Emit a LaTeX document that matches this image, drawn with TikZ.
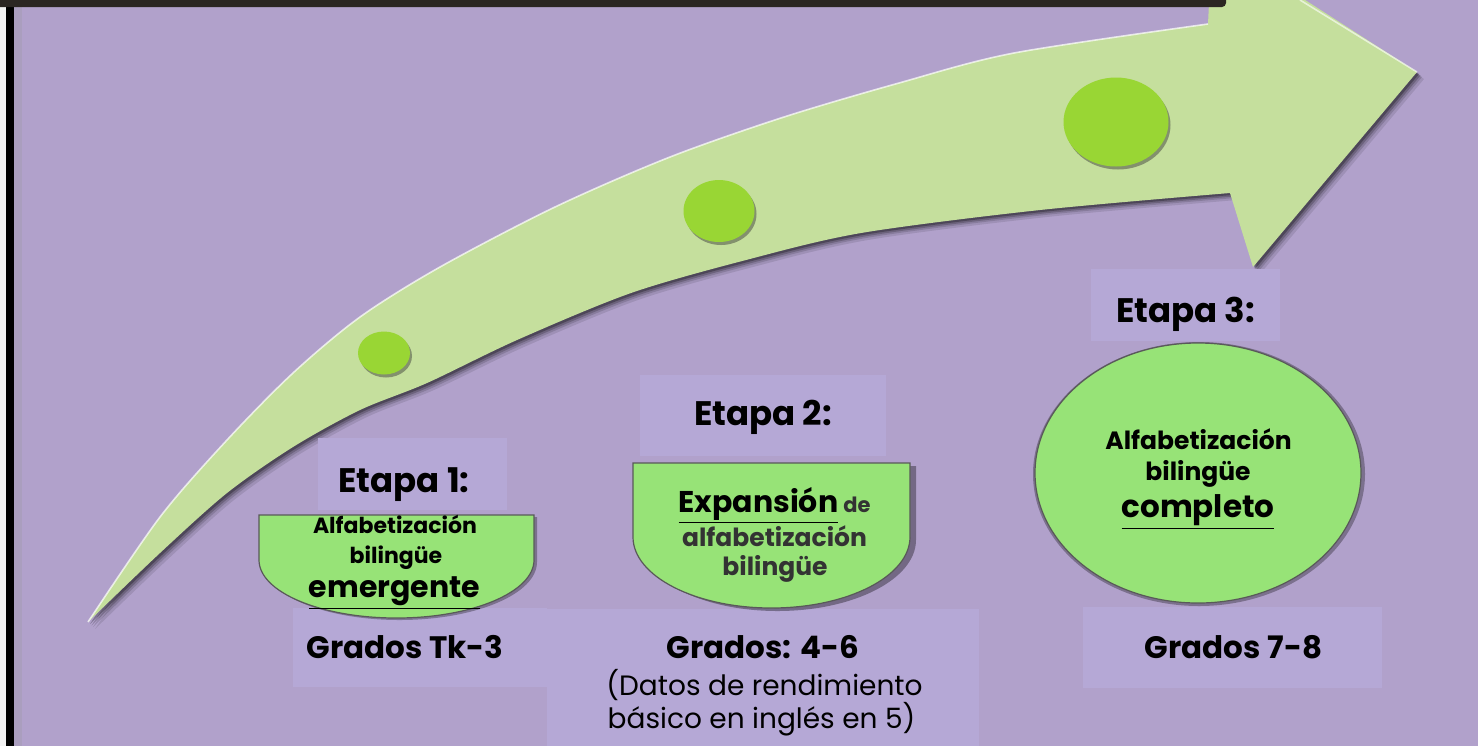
\documentclass[tikz,border=0pt]{standalone}
\usepackage{fontspec}
\setmainfont{Poppins}
\usetikzlibrary{shapes.geometric,shadows}
\definecolor{bg}{RGB}{177,161,203}
\definecolor{boxc}{RGB}{181,168,214}
\definecolor{arrowg}{RGB}{197,223,157}
\definecolor{dotg}{RGB}{153,214,52}
\definecolor{shapeg}{RGB}{151,227,119}
\definecolor{barc}{RGB}{43,38,34}
\definecolor{txtgray}{RGB}{51,51,51}
\def\upperedge{(88,622) (160,517) (227,440) (293,373) (360,317) (440,267) (555,207) (670,157) (784,117) (899,83) (1014,53) (1208,24)}
\def\arrowpath{plot[smooth,tension=0.5] coordinates {\upperedge} -- (1212,-60) -- (1417,72) -- (1253,267) -- (1230,193) -- plot[smooth,tension=0.5] coordinates {(1230,193) (1040,210) (861,233) (746,260) (631,293) (517,340) (427,383) (360,410) (293,447) (227,493) (160,553) (88,622)} -- cycle}
\begin{document}
\begin{tikzpicture}[x=0.5pt,y=-0.5pt,
  lbox/.style={fill=boxc},
  gshape/.style={fill=shapeg,draw=black!65,line width=0.6pt},
  dotn/.style={ellipse,fill=dotg,inner sep=0pt,drop shadow={shadow xshift=1pt,shadow yshift=-1.5pt,opacity=0.45,fill=black!80}},
  tb/.style={anchor=base,inner sep=0pt,font=\bfseries\fontsize{17}{20}\selectfont},
  tg/.style={anchor=base,inner sep=0pt,font=\bfseries\fontsize{15.5}{18}\selectfont},
  ts/.style={anchor=base,inner sep=0pt,font=\bfseries\fontsize{11}{13}\selectfont},
  tm/.style={anchor=base,inner sep=0pt,font=\bfseries\fontsize{12.5}{14}\selectfont},
  tr/.style={anchor=base,inner sep=0pt,font=\fontsize{14}{16}\selectfont}]
\useasboundingbox (0,0) rectangle (1478,746);
\fill[bg] (0,0) rectangle (1478,746);
\begin{scope}
\clip (0,0) rectangle (1478,746);
% arrow shadow
\foreach \d/\o in {7/0.10,5/0.14,3.5/0.2,2/0.28}{\fill[black,opacity=\o,shift={(\d,\d)}] \arrowpath;}
\fill[arrowg] \arrowpath;
\draw[white,opacity=0.7,line width=0.8pt] plot[smooth,tension=0.5] coordinates {\upperedge};
\draw[white,opacity=0.6,line width=0.8pt] (1300,0) -- (1417,72);
\end{scope}
% dots
\node[dotn,minimum width=26pt,minimum height=21.5pt] (d1) at (384,353) {};
\node[dotn,minimum width=35.5pt,minimum height=31pt] (d2) at (719,211) {};
\node[dotn,minimum width=52.5pt,minimum height=44.5pt] (d3) at (1116,122) {};
% label boxes
\fill[lbox] (318,438) rectangle (507,510);
\fill[lbox] (293,608) rectangle (547,687);
\fill[lbox] (640,375) rectangle (886,456);
\fill[lbox] (547,609) rectangle (979,746);
\fill[lbox] (1091,269) rectangle (1280,341);
\fill[lbox] (1083,607) rectangle (1382,688);
% green shapes
\fill[black,opacity=0.3,shift={(3,2)}] (259,515) -- (259,560) .. controls (259,592) and (320.5,618) .. (396.5,618) .. controls (472.5,618) and (534,592) .. (534,560) -- (534,515) -- cycle;
\path[gshape] (259,515) -- (259,560) .. controls (259,592) and (320.5,618) .. (396.5,618) .. controls (472.5,618) and (534,592) .. (534,560) -- (534,515) -- cycle;
\fill[black,opacity=0.35,shift={(6,3)}] (633,463) -- (633,537) .. controls (633,576) and (695,608) .. (771.5,608) .. controls (848,608) and (910,576) .. (910,537) -- (910,463) -- cycle;
\path[gshape] (633,463) -- (633,537) .. controls (633,576) and (695,608) .. (771.5,608) .. controls (848,608) and (910,576) .. (910,537) -- (910,463) -- cycle;
\node[ellipse,fill=black,opacity=0.3,minimum width=166pt,minimum height=132pt,inner sep=0pt] (e3s) at (1199,474) {};
\node[ellipse,gshape,minimum width=163pt,minimum height=130pt,inner sep=0pt] (e3) at (1198,473) {};
% texts stage 1
\node[tb] (et1) at (404,492) {Etapa 1:};
\node[ts] (a1) at (395,533) {Alfabetización};
\node[ts] (b1) at (396,563) {bilingüe};
\node[tb,font=\bfseries\fontsize{15}{17}\selectfont] (c1) at (394.5,597) {\underline{emergente}};
\node[tg] (g1) at (405,658) {Grados Tk-3};
% stage 2
\node[tb] (et2) at (763,425) {Etapa 2:};
\node[tb,font=\bfseries\fontsize{15}{17}\selectfont] (a2) at (774.5,512) {\underline{Expansión}\,{\color{txtgray}\fontsize{10.5}{12}\selectfont de}};
\node[tm,text=txtgray] (b2) at (774.5,546) {alfabetización};
\node[tm,text=txtgray] (c2) at (775,575) {bilingüe};
\node[tg] (g2) at (763,658) {Grados: 4-6};
\node[tr] (g2b) at (764.5,695) {(Datos de rendimiento};
\node[tr] (g2c) at (761.5,728) {básico en inglés en 5)};
% stage 3
\node[tb] (et3) at (1185.5,322) {Etapa 3:};
\node[tm] (a3) at (1198.5,449) {Alfabetización};
\node[tm] (b3) at (1198,480) {bilingüe};
\node[tb,font=\bfseries\fontsize{15.5}{17}\selectfont] (c3) at (1198,517) {\underline{completo}};
\node[tg] (g3) at (1233.5,658) {Grados 7-8};
% left border and top bar
\fill[black!5] (0,0) rectangle (6,746);
\fill[black] (6,0) rectangle (14,746);
\fill[black!40,opacity=0.25] (14,0) rectangle (22,746);
\fill[barc,rounded corners=2pt] (-10,-10) rectangle (1226,7);
\end{tikzpicture}
\end{document}
